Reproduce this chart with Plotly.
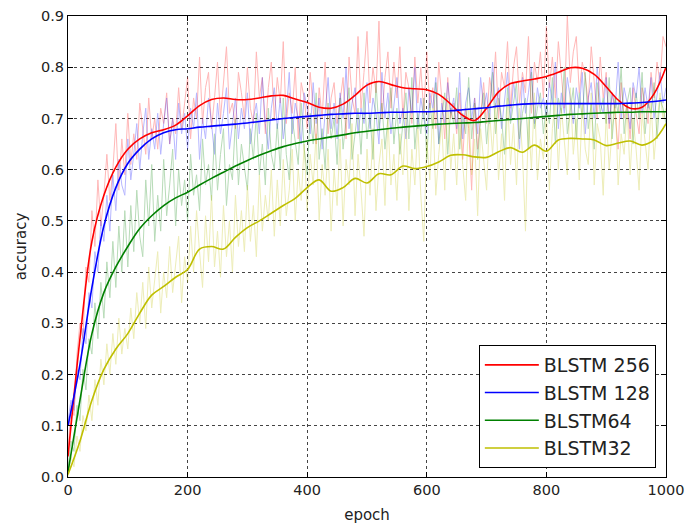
import plotly.graph_objects as go

# ---------------- data ----------------
series_names = ["BLSTM 256", "BLSTM 128", "BLSTM64", "BLSTM32"]
x_ticks = [0, 200, 400, 600, 800, 1000]
y_ticks = [0.0, 0.1, 0.2, 0.3, 0.4, 0.5, 0.6, 0.7, 0.8, 0.9]

# raw per-epoch accuracy (read every 5 epochs)
raw_epochs = list(range(0, 1001, 5))
raw_256 = [
    0.05, 0.14, 0.12, 0.24, 0.30, 0.27, 0.41, 0.38, 0.52, 0.45,
    0.58, 0.49, 0.55, 0.63, 0.54, 0.60, 0.69, 0.56, 0.66, 0.59,
    0.71, 0.61, 0.67, 0.62, 0.73, 0.68, 0.63, 0.74, 0.66, 0.70,
    0.64, 0.72, 0.69, 0.75, 0.65, 0.70, 0.67, 0.76, 0.68, 0.73,
    0.78, 0.66, 0.74, 0.70, 0.82, 0.69, 0.76, 0.79, 0.68, 0.74,
    0.81, 0.70, 0.77, 0.84, 0.71, 0.73, 0.68, 0.79, 0.75, 0.70,
    0.80, 0.72, 0.69, 0.83, 0.74, 0.78, 0.67, 0.76, 0.81, 0.70,
    0.78, 0.73, 0.85, 0.69, 0.75, 0.71, 0.80, 0.66, 0.77, 0.74,
    0.68, 0.79, 0.72, 0.65, 0.76, 0.70, 0.81, 0.67, 0.74, 0.77,
    0.69, 0.73, 0.78, 0.66, 0.82, 0.74, 0.71, 0.86, 0.72, 0.79,
    0.87, 0.73, 0.80, 0.75, 0.89, 0.70, 0.78, 0.83, 0.72, 0.81,
    0.74, 0.84, 0.70, 0.79, 0.76, 0.69, 0.82, 0.73, 0.80, 0.71,
    0.83, 0.72, 0.76, 0.68, 0.81, 0.74, 0.66, 0.78, 0.70, 0.73,
    0.67, 0.75, 0.62, 0.72, 0.68, 0.56, 0.74, 0.64, 0.70, 0.77,
    0.69, 0.78, 0.74, 0.83, 0.70, 0.79, 0.76, 0.85, 0.72, 0.80,
    0.84, 0.73, 0.79, 0.75, 0.86, 0.71, 0.81, 0.77, 0.83, 0.74,
    0.88, 0.76, 0.82, 0.74, 0.85, 0.79, 0.72, 0.90, 0.77, 0.83,
    0.86, 0.75, 0.81, 0.78, 0.73, 0.84, 0.76, 0.70, 0.82, 0.74,
    0.79, 0.68, 0.75, 0.71, 0.64, 0.77, 0.70, 0.73, 0.66, 0.76,
    0.71, 0.67, 0.76, 0.73, 0.69, 0.79, 0.74, 0.81, 0.77, 0.86,
    0.84,
]
raw_128 = [
    0.11, 0.15, 0.13, 0.21, 0.19, 0.29, 0.26, 0.36, 0.33, 0.44,
    0.40, 0.50, 0.46, 0.55, 0.48, 0.59, 0.52, 0.62, 0.57, 0.55,
    0.66, 0.58, 0.63, 0.69, 0.60, 0.67, 0.72, 0.62, 0.68, 0.64,
    0.71, 0.63, 0.69, 0.74, 0.65, 0.70, 0.62, 0.73, 0.67, 0.71,
    0.64, 0.72, 0.68, 0.75, 0.62, 0.70, 0.66, 0.74, 0.69, 0.63,
    0.73, 0.67, 0.71, 0.76, 0.64, 0.69, 0.74, 0.66, 0.72, 0.68,
    0.75, 0.65, 0.70, 0.73, 0.67, 0.78, 0.69, 0.64, 0.72, 0.76,
    0.68, 0.74, 0.66, 0.71, 0.79, 0.67, 0.73, 0.70, 0.65, 0.75,
    0.72, 0.67, 0.77, 0.69, 0.74, 0.64, 0.71, 0.78, 0.68, 0.73,
    0.66, 0.75, 0.70, 0.80, 0.68, 0.73, 0.76, 0.67, 0.72, 0.69,
    0.77, 0.68, 0.74, 0.71, 0.65, 0.79, 0.70, 0.75, 0.67, 0.73,
    0.78, 0.69, 0.72, 0.66, 0.76, 0.71, 0.80, 0.68, 0.74, 0.70,
    0.67, 0.75, 0.72, 0.78, 0.65, 0.73, 0.69, 0.77, 0.71, 0.74,
    0.68, 0.79, 0.66, 0.73, 0.76, 0.70, 0.74, 0.67, 0.78, 0.72,
    0.75, 0.69, 0.81, 0.72, 0.76, 0.68, 0.74, 0.79, 0.70, 0.77,
    0.73, 0.64, 0.78, 0.71, 0.75, 0.80, 0.69, 0.76, 0.72, 0.74,
    0.70, 0.77, 0.73, 0.81, 0.68, 0.75, 0.71, 0.78, 0.74, 0.69,
    0.76, 0.72, 0.79, 0.67, 0.74, 0.77, 0.70, 0.80, 0.73, 0.71,
    0.78, 0.69, 0.75, 0.72, 0.81, 0.70, 0.76, 0.73, 0.68, 0.77,
    0.74, 0.80, 0.71, 0.76, 0.72, 0.78, 0.70, 0.75, 0.79, 0.73,
    0.76,
]
raw_64 = [
    0.02, 0.07, 0.05, 0.14, 0.11, 0.21, 0.17, 0.27, 0.24, 0.34,
    0.27, 0.38, 0.31, 0.42, 0.35, 0.46, 0.37, 0.49, 0.40, 0.52,
    0.41, 0.53, 0.44, 0.56, 0.47, 0.43, 0.58, 0.49, 0.61, 0.46,
    0.55, 0.48, 0.62, 0.51, 0.57, 0.64, 0.49, 0.60, 0.53, 0.58,
    0.50, 0.63, 0.55, 0.59, 0.52, 0.66, 0.57, 0.61, 0.54, 0.67,
    0.56, 0.63, 0.68, 0.53, 0.61, 0.58, 0.70, 0.57, 0.65, 0.60,
    0.56, 0.68, 0.62, 0.71, 0.59, 0.65, 0.57, 0.72, 0.63, 0.60,
    0.69, 0.60, 0.74, 0.63, 0.58, 0.70, 0.66, 0.61, 0.73, 0.64,
    0.59, 0.71, 0.65, 0.75, 0.62, 0.68, 0.60, 0.73, 0.66, 0.70,
    0.61, 0.74, 0.64, 0.70, 0.76, 0.62, 0.67, 0.72, 0.63, 0.75,
    0.66, 0.71, 0.62, 0.77, 0.68, 0.73, 0.64, 0.70, 0.76, 0.65,
    0.72, 0.63, 0.69, 0.75, 0.66, 0.78, 0.64, 0.71, 0.67, 0.74,
    0.62, 0.73, 0.68, 0.77, 0.65, 0.70, 0.75, 0.63, 0.72, 0.69,
    0.76, 0.64, 0.71, 0.67, 0.78, 0.66, 0.73, 0.62, 0.70, 0.75,
    0.65, 0.72, 0.79, 0.67, 0.74, 0.70, 0.63, 0.76, 0.69, 0.73,
    0.77, 0.66, 0.71, 0.74, 0.64, 0.79, 0.68, 0.72, 0.75, 0.67,
    0.73, 0.69, 0.78, 0.65, 0.74, 0.71, 0.80, 0.67, 0.72, 0.76,
    0.66, 0.75, 0.70, 0.79, 0.68, 0.73, 0.64, 0.77, 0.71, 0.74,
    0.69, 0.78, 0.66, 0.74, 0.71, 0.80, 0.67, 0.73, 0.76, 0.65,
    0.75, 0.70, 0.79, 0.67, 0.73, 0.71, 0.77, 0.66, 0.74, 0.72,
    0.69,
]
raw_32 = [
    0.00, 0.04, 0.02, 0.08, 0.05, 0.12, 0.09, 0.16, 0.11, 0.19,
    0.14, 0.23, 0.18, 0.26, 0.20, 0.28, 0.22, 0.31, 0.24, 0.29,
    0.25, 0.33, 0.27, 0.36, 0.30, 0.38, 0.29, 0.41, 0.33, 0.39,
    0.44, 0.32, 0.40, 0.35, 0.45, 0.36, 0.42, 0.47, 0.34, 0.43,
    0.38, 0.49, 0.40, 0.52, 0.44, 0.37, 0.51, 0.42, 0.55, 0.41,
    0.48, 0.39, 0.53, 0.43, 0.50, 0.40, 0.55, 0.45, 0.52, 0.44,
    0.57, 0.46, 0.53, 0.43, 0.59, 0.48, 0.55, 0.50, 0.60, 0.47,
    0.58, 0.49, 0.62, 0.51, 0.56, 0.64, 0.50, 0.60, 0.54, 0.65,
    0.52, 0.63, 0.57, 0.67, 0.50, 0.61, 0.55, 0.64, 0.48, 0.60,
    0.53, 0.66, 0.49, 0.62, 0.57, 0.69, 0.51, 0.63, 0.56, 0.47,
    0.64, 0.55, 0.68, 0.52, 0.61, 0.66, 0.53, 0.70, 0.57, 0.63,
    0.54, 0.67, 0.59, 0.71, 0.52, 0.64, 0.57, 0.69, 0.55, 0.46,
    0.66, 0.58, 0.72, 0.55, 0.63, 0.69, 0.56, 0.74, 0.60, 0.67,
    0.57, 0.70, 0.61, 0.54, 0.72, 0.59, 0.66, 0.51, 0.68, 0.62,
    0.56, 0.71, 0.63, 0.73, 0.58, 0.67, 0.54, 0.74, 0.61, 0.69,
    0.57, 0.72, 0.63, 0.48, 0.70, 0.60, 0.75, 0.58, 0.66, 0.62,
    0.71, 0.56, 0.68, 0.74, 0.60, 0.72, 0.65, 0.59, 0.76, 0.63,
    0.70, 0.58, 0.73, 0.64, 0.61, 0.75, 0.57, 0.69, 0.66, 0.55,
    0.71, 0.60, 0.68, 0.74, 0.57, 0.67, 0.63, 0.72, 0.59, 0.70,
    0.64, 0.56, 0.71, 0.66, 0.60, 0.73, 0.62, 0.69, 0.75, 0.70,
    0.72,
]

# smoothed curves (read every 20 epochs)
smooth_epochs = list(range(0, 1001, 20))
smooth_256 = [
    0.04, 0.27, 0.46, 0.55, 0.605, 0.64, 0.66, 0.672, 0.678, 0.687,
    0.705, 0.725, 0.737, 0.740, 0.737, 0.737, 0.740, 0.744, 0.745, 0.738,
    0.731, 0.722, 0.720, 0.728, 0.745, 0.765, 0.772, 0.766, 0.760, 0.758,
    0.756, 0.747, 0.728, 0.706, 0.696, 0.720, 0.752, 0.768, 0.773, 0.777,
    0.782, 0.790, 0.799, 0.798, 0.786, 0.762, 0.736, 0.720, 0.722, 0.748,
    0.800,
]
smooth_128 = [
    0.10, 0.22, 0.37, 0.49, 0.565, 0.612, 0.640, 0.660, 0.672, 0.678,
    0.680, 0.683, 0.685, 0.687, 0.689, 0.691, 0.694, 0.697, 0.700, 0.702,
    0.704, 0.706, 0.708, 0.709, 0.710, 0.710, 0.711, 0.712, 0.712, 0.713,
    0.713, 0.714, 0.715, 0.717, 0.719, 0.721, 0.724, 0.726, 0.728, 0.729,
    0.729, 0.729, 0.729, 0.729, 0.729, 0.729, 0.729, 0.730, 0.731, 0.733,
    0.736,
]
smooth_64 = [
    0.01, 0.15, 0.28, 0.36, 0.41, 0.45, 0.485, 0.51, 0.53, 0.545,
    0.556, 0.570, 0.583, 0.595, 0.607, 0.618, 0.628, 0.637, 0.645, 0.651,
    0.656, 0.660, 0.664, 0.668, 0.672, 0.675, 0.678, 0.681, 0.683, 0.685,
    0.687, 0.689, 0.690, 0.691, 0.692, 0.694, 0.696, 0.698, 0.700, 0.702,
    0.704, 0.706, 0.708, 0.709, 0.710, 0.711, 0.712, 0.712, 0.713, 0.713,
    0.713,
]
smooth_32 = [
    0.005, 0.07, 0.15, 0.21, 0.25, 0.28, 0.32, 0.355, 0.372, 0.39,
    0.405, 0.445, 0.450, 0.445, 0.468, 0.487, 0.500, 0.515, 0.530, 0.544,
    0.565, 0.580, 0.558, 0.565, 0.583, 0.574, 0.592, 0.590, 0.607, 0.602,
    0.606, 0.615, 0.628, 0.629, 0.625, 0.624, 0.635, 0.643, 0.634, 0.648,
    0.636, 0.658, 0.661, 0.660, 0.658, 0.647, 0.652, 0.656, 0.648, 0.658,
    0.690,
]

colors = ["#ff0000", "#0000ff", "#008000", "#bfbf00"]
raw_all = [raw_256, raw_128, raw_64, raw_32]
smooth_all = [smooth_256, smooth_128, smooth_64, smooth_32]

FONT = "DejaVu Sans"
fig = go.Figure()

for raw, c in zip(raw_all, colors):
    fig.add_trace(go.Scatter(
        x=raw_epochs[:len(raw)], y=raw, mode="lines",
        line=dict(color=c, width=1), opacity=0.28,
        showlegend=False, hoverinfo="skip"))

for i, (name, sm, c) in enumerate(zip(series_names, smooth_all, colors)):
    fig.add_trace(go.Scatter(
        x=smooth_epochs[:len(sm)], y=sm, mode="lines", name=name,
        legendgroup=f"g{i}",
        line=dict(color=c, width=1.6, shape="spline", smoothing=1.0)))

axis_common = dict(
    showline=True, linecolor="black", linewidth=1, mirror="ticks",
    ticks="inside", ticklen=5, tickcolor="black", tickwidth=1,
    showgrid=True, gridcolor="#444444", gridwidth=1, griddash="dot",
    zeroline=False, automargin=False,
    tickfont=dict(family=FONT, size=14.5, color="#222"),
)

fig.update_xaxes(range=[0, 1000], tickvals=x_ticks,
                 title=dict(text="epoch", font=dict(family=FONT, size=15, color="#222"), standoff=12),
                 **axis_common)
fig.update_yaxes(range=[0, 0.9], tickvals=y_ticks, tickformat=".1f",
                 title=dict(text="accuracy", font=dict(family=FONT, size=15, color="#222"), standoff=10),
                 **axis_common)

fig.update_layout(
    width=686, height=530,
    margin=dict(l=68, r=20, t=16, b=53, autoexpand=False),
    paper_bgcolor="white", plot_bgcolor="white",
    font=dict(family=FONT, color="#222"),
    legend=dict(
        x=0.983, y=0.0195, xanchor="right", yanchor="bottom",
        bgcolor="white", bordercolor="black", borderwidth=1,
        font=dict(family=FONT, size=19, color="#222"),
        tracegroupgap=0, itemwidth=54,
    ),
)

fig.write_html(
    "out.html",
    config={"displayModeBar": False},
    post_script="document.body.style.margin='0';document.body.style.overflow='hidden';",
)
